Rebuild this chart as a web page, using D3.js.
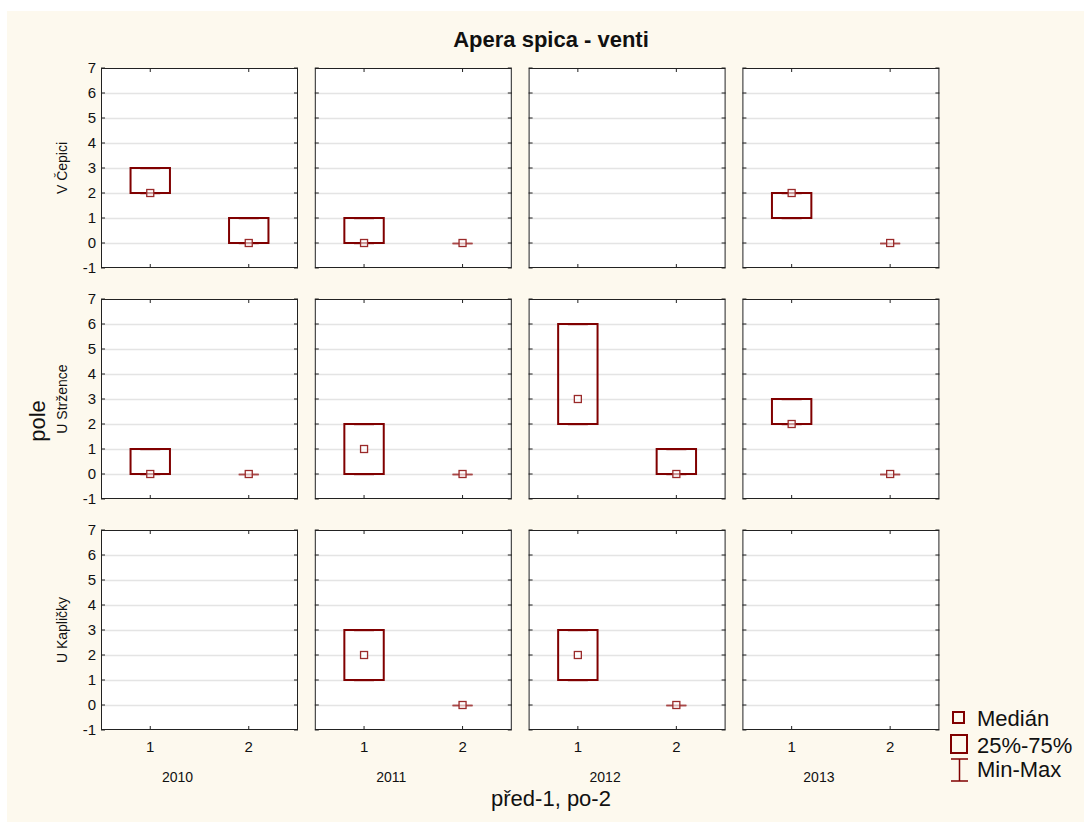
<!DOCTYPE html>
<html>
<head>
<meta charset="utf-8">
<script src="https://cdn.jsdelivr.net/npm/d3@7"></script>
<style>
  body { margin: 0; background: #fff; }
  svg { display: block; font-family: "Liberation Sans", Arial, sans-serif; }
  .frame { fill: none; stroke: #222; stroke-width: 1; }
  .grid line { stroke: #e4e4e4; stroke-width: 1.5; }
  .tick-in { stroke: #222; stroke-width: 1; }
</style>
</head>
<body>
<svg id="chart"></svg>
<script>
// data
const rowNames = ['V Čepici', 'U Stržence', 'U Kapličky'];
const years = ['2010', '2011', '2012', '2013'];
const groups = ['1', '2'];
const yTicks = [-1, 0, 1, 2, 3, 4, 5, 6, 7];

// [row][year][group], null = no data
const medians = [
    [[2, 0], [0, 0], [null, null], [2, 0]],
    [[0, 0], [1, 0], [3, 0], [2, 0]],
    [[null, null], [2, 0], [2, 0], [null, null]]
];
const q25 = [
    [[2, 0], [0, 0], [null, null], [1, 0]],
    [[0, 0], [0, 0], [2, 0], [2, 0]],
    [[null, null], [1, 0], [1, 0], [null, null]]
];
const q75 = [
    [[3, 1], [1, 0], [null, null], [2, 0]],
    [[1, 0], [2, 0], [6, 1], [3, 0]],
    [[null, null], [3, 0], [3, 0], [null, null]]
];
const minVals = q25;
const maxVals = q75;

const width = 1084, height = 822;
const boxColor = '#800000';
const capColor = '#a84848';

const svg = d3.select('#chart')
    .attr('width', width)
    .attr('height', height);

svg.append('rect')
    .attr('x', 7).attr('y', 11)
    .attr('width', width - 7).attr('height', height - 11)
    .attr('fill', '#fdf9ee');

const panelLeft = 101, panelW = 197, colStep = 213.8;
const panelTop = 68, panelH = 200, rowStep = 231;

const x = d3.scalePoint().domain(groups).range([0, panelW]).padding(0.5);
const y = d3.scaleLinear().domain([-1, 7]).range([panelH, 0]);
const boxW = x.step() * 0.4;
const capW = 20;
const medSize = 7;

rowNames.forEach((rowName, r) => {
    const py = panelTop + r * rowStep;

    // y tick labels
    svg.append('g')
        .attr('transform', `translate(${panelLeft},${py})`)
        .selectAll('text')
        .data(yTicks)
        .join('text')
        .attr('x', -5)
        .attr('y', d => y(d))
        .attr('dy', '0.35em')
        .attr('text-anchor', 'end')
        .attr('font-size', 15)
        .attr('fill', '#111')
        .text(d => d);

    // row label
    svg.append('text')
        .attr('transform', `translate(67,${py + panelH / 2}) rotate(-90)`)
        .attr('text-anchor', 'middle')
        .attr('font-size', 14)
        .attr('fill', '#111')
        .text(rowName);

    years.forEach((yr, c) => {
        const px = panelLeft + c * colStep;
        const g = svg.append('g').attr('transform', `translate(${px},${py})`);

        g.append('rect')
            .attr('width', panelW).attr('height', panelH)
            .attr('fill', '#fff');

        // grid
        g.append('g')
            .attr('class', 'grid')
            .call(d3.axisLeft(y).tickValues(yTicks).tickSize(-panelW).tickFormat(''))
            .call(s => s.select('.domain').remove())
            .call(s => s.selectAll('.tick').filter(d => d === -1 || d === 7).remove());

        // inner ticks left/right
        g.selectAll('.ty').data(yTicks).join('g').each(function (d) {
            const t = d3.select(this);
            t.append('line').attr('class', 'tick-in')
                .attr('x1', 0).attr('x2', 4).attr('y1', y(d)).attr('y2', y(d));
            t.append('line').attr('class', 'tick-in')
                .attr('x1', panelW - 4).attr('x2', panelW).attr('y1', y(d)).attr('y2', y(d));
        });
        // inner ticks top/bottom
        g.selectAll('.tx').data(groups).join('g').each(function (d) {
            const t = d3.select(this);
            t.append('line').attr('class', 'tick-in')
                .attr('x1', x(d)).attr('x2', x(d)).attr('y1', 0).attr('y2', 4);
            t.append('line').attr('class', 'tick-in')
                .attr('x1', x(d)).attr('x2', x(d)).attr('y1', panelH - 4).attr('y2', panelH);
        });

        // boxes
        groups.forEach((grp, k) => {
            const med = medians[r][c][k];
            if (med === null) return;
            const cx = x(grp);
            const lo = q25[r][c][k], hi = q75[r][c][k];
            const mn = minVals[r][c][k], mx = maxVals[r][c][k];

            // whiskers
            g.append('line').attr('stroke', capColor).attr('stroke-width', 1.5)
                .attr('x1', cx).attr('x2', cx).attr('y1', y(mn)).attr('y2', y(lo));
            g.append('line').attr('stroke', capColor).attr('stroke-width', 1.5)
                .attr('x1', cx).attr('x2', cx).attr('y1', y(hi)).attr('y2', y(mx));
            [mn, mx].forEach(v => {
                g.append('line').attr('stroke', capColor).attr('stroke-width', 1.5)
                    .attr('x1', cx - capW / 2).attr('x2', cx + capW / 2)
                    .attr('y1', y(v) + 0.5).attr('y2', y(v) + 0.5);
            });

            if (hi > lo) {
                g.append('rect')
                    .attr('x', cx - boxW / 2).attr('y', y(hi))
                    .attr('width', boxW).attr('height', y(lo) - y(hi))
                    .attr('fill', 'none')
                    .attr('stroke', boxColor).attr('stroke-width', 2);
            }

            g.append('rect')
                .attr('x', cx - medSize / 2).attr('y', y(med) - medSize / 2)
                .attr('width', medSize).attr('height', medSize)
                .attr('fill', '#fff').attr('fill-opacity', 0.6)
                .attr('stroke', '#9a2a2a').attr('stroke-width', 1.3);
        });

        g.append('rect').attr('class', 'frame')
            .attr('x', 0.5).attr('y', 0.5)
            .attr('width', panelW - 1).attr('height', panelH - 1);

        // x tick labels and year label on the bottom row
        if (r === rowNames.length - 1) {
            g.selectAll('.xl').data(groups).join('text')
                .attr('x', d => x(d))
                .attr('y', panelH + 22)
                .attr('text-anchor', 'middle')
                .attr('font-size', 15)
                .attr('fill', '#111')
                .text(d => d);
            g.append('text')
                .attr('x', panelW / 2 - 22)
                .attr('y', panelH + 52)
                .attr('text-anchor', 'middle')
                .attr('font-size', 14)
                .attr('fill', '#111')
                .text(yr);
        }
    });
});

// title and axis titles
svg.append('text')
    .attr('x', 551).attr('y', 47)
    .attr('text-anchor', 'middle')
    .attr('font-size', 22)
    .attr('font-weight', 'bold')
    .attr('fill', '#111')
    .text('Apera spica - venti');

svg.append('text')
    .attr('x', 551).attr('y', 806)
    .attr('text-anchor', 'middle')
    .attr('font-size', 22)
    .attr('fill', '#111')
    .text('před-1, po-2');

svg.append('text')
    .attr('transform', 'translate(45,421) rotate(-90)')
    .attr('text-anchor', 'middle')
    .attr('font-size', 22)
    .attr('fill', '#111')
    .text('pole');

// legend
const legend = svg.append('g');
legend.append('rect')
    .attr('x', 953).attr('y', 712).attr('width', 11).attr('height', 11)
    .attr('fill', 'none').attr('stroke', boxColor).attr('stroke-width', 2);
legend.append('rect')
    .attr('x', 951).attr('y', 735).attr('width', 16).attr('height', 18)
    .attr('fill', 'none').attr('stroke', boxColor).attr('stroke-width', 2);
legend.append('path')
    .attr('d', 'M951,759H968M959.5,759V781M951,781H968')
    .attr('fill', 'none').attr('stroke', boxColor).attr('stroke-width', 1.5);
legend.selectAll('text')
    .data(['Medián', '25%-75%', 'Min-Max'])
    .join('text')
    .attr('x', 977)
    .attr('y', (d, i) => [726, 753, 777][i])
    .attr('font-size', 22)
    .attr('fill', '#111')
    .text(d => d);
</script>
</body>
</html>
